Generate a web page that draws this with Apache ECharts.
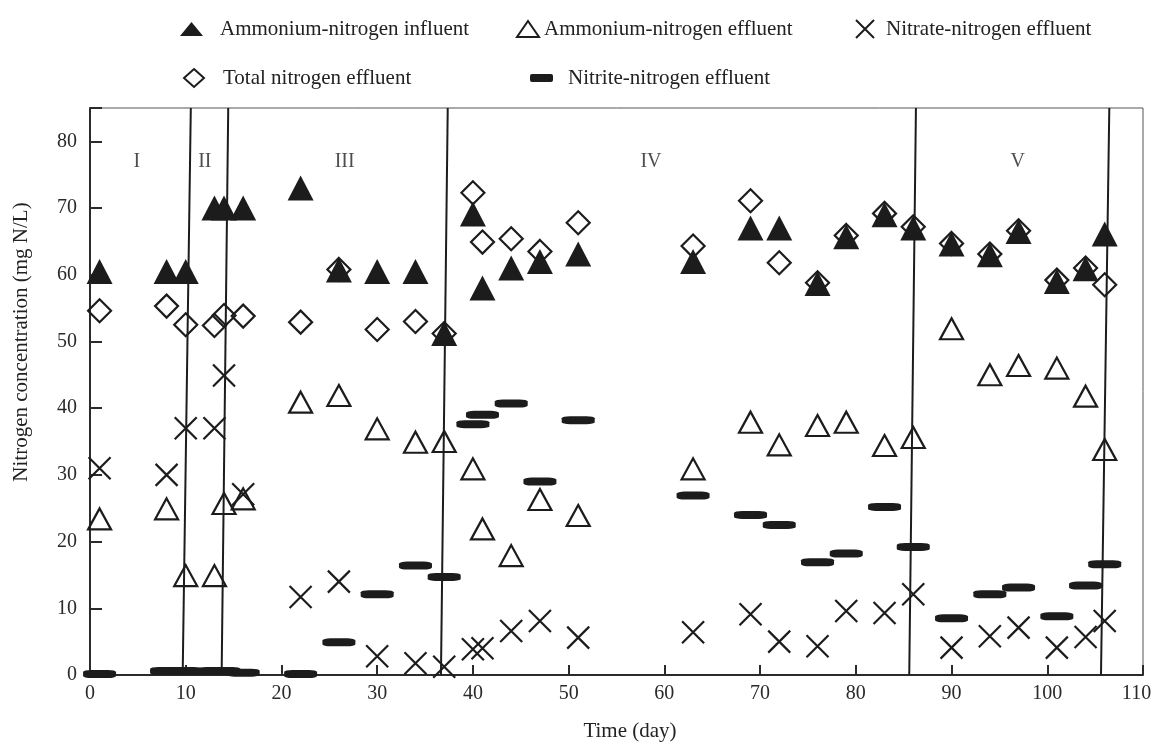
<!DOCTYPE html>
<html>
<head>
<meta charset="utf-8">
<script src="https://cdn.jsdelivr.net/npm/echarts@6/dist/echarts.min.js"></script>
<style>
html,body{margin:0;padding:0;background:#fff;}
#chart{width:1153px;height:744px;}
</style>
</head>
<body>
<div id="chart"></div>
<script>
// ---- Data ----
const days = [1, 8, 10, 13, 14, 16, 22, 26, 30, 34, 37, 40, 41, 44, 47, 51, 63, 69, 72, 76, 79, 83, 86, 90, 94, 97, 101, 104, 106];
const ammoniumInfluent = [60.5, 60.5, 60.5, 70, 70, 70, 73, 60.7, 60.5, 60.5, 51.2, 69.1, 58, 61, 62, 63.1, 62, 67, 67, 58.7, 65.7, 69, 67, 64.6, 63, 66.5, 59, 60.9, 66.1];
const ammoniumEffluent = [23.4, 24.9, 14.9, 14.9, 25.7, 26.4, 40.9, 41.9, 36.9, 34.9, 35.0, 30.9, 21.9, 17.9, 26.3, 23.9, 30.9, 37.9, 34.5, 37.4, 37.9, 34.4, 35.6, 51.9, 45.0, 46.4, 46.0, 41.8, 33.8];
const nitrateEffluent = [31.0, 30.0, 37.0, 37.0, 44.9, 27.1, 11.7, 14.0, 2.8, 1.75, 1.25, 3.85, 4.0, 6.6, 8.1, 5.6, 6.4, 9.1, 5.0, 4.3, 9.6, 9.3, 12.1, 4.1, 5.8, 7.1, 4.1, 5.7, 8.1];
const totalNitrogenEffluent = [54.6, 55.3, 52.5, 52.4, 53.9, 53.8, 52.9, 60.8, 51.8, 53.0, 51.2, 72.3, 64.9, 65.4, 63.5, 67.8, 64.3, 71.1, 61.8, 58.8, 65.9, 69.2, 67.2, 64.7, 63.1, 66.6, 59.2, 61.0, 58.5];
const nitriteEffluent = [0.15, 0.6, 0.6, 0.6, 0.6, 0.35, 0.15, 4.9, 12.1, 16.4, 14.7, 37.6, 39.0, 40.7, 29.0, 38.2, 26.9, 24.0, 22.5, 16.9, 18.2, 25.2, 19.2, 8.5, 12.1, 13.1, 8.8, 13.4, 16.6];

const phaseNames = ['I', 'II', 'III', 'IV', 'V'];
const phaseLabelX = [4.9, 12.0, 26.6, 58.6, 96.9];
const phaseLabelY = [77, 77, 77, 77, 77];
const boundaryTopX = [10.53, 14.44, 37.37, 86.28, 106.48];
const boundaryBottomX = [9.68, 13.75, 36.66, 85.58, 105.61];

const seriesNames = ['Ammonium-nitrogen influent', 'Ammonium-nitrogen effluent', 'Nitrate-nitrogen effluent', 'Total nitrogen effluent', 'Nitrite-nitrogen effluent'];
const xMin = 0, xMax = 110, xInterval = 10;
const yMin = 0, yMax = 85, yInterval = 10, yLabelMax = 80;

// ---- Chart ----
const FONT = '"Liberation Serif", "Times New Roman", serif';
const INK = '#1c1c1c';
const pair = (vals) => days.map((d, i) => [d, vals[i]]);
const crossPath = 'path://M0,0L20,20M20,0L0,20';

function legendAt(name, left, top, w, h, padLeft) {
  return {
    data: [name], left: left, top: top, padding: 0,
    itemWidth: w, itemHeight: h, selectedMode: false,
    textStyle: { fontFamily: FONT, fontSize: 21, color: '#222', padding: [0, 0, 0, padLeft] }
  };
}

const chart = echarts.init(document.getElementById('chart'), null, { renderer: 'canvas' });
chart.setOption({
  animation: false,
  backgroundColor: '#fff',
  textStyle: { fontFamily: FONT },
  legend: [
    legendAt(seriesNames[0], 180, 18.5, 23, 14, 12),
    legendAt(seriesNames[1], 516, 18.5, 22, 16, 0),
    legendAt(seriesNames[2], 855, 18.5, 18, 18, 7),
    legendAt(seriesNames[3], 183, 67.5, 20, 18, 14),
    legendAt(seriesNames[4], 530, 67.5, 23, 8, 10)
  ],
  grid: { left: 90, right: 10, top: 108, bottom: 69, show: true, borderColor: '#555', borderWidth: 1,
    backgroundColor: 'transparent', containLabel: false, outerBoundsMode: 'none' },
  xAxis: {
    type: 'value', min: xMin, max: xMax, interval: xInterval,
    name: 'Time (day)', nameLocation: 'middle', nameGap: 46,
    nameTextStyle: { fontFamily: FONT, fontSize: 21, color: '#222', padding: [0, 0, 0, 27] },
    axisLine: { show: true, onZero: false, lineStyle: { color: '#2b2b2b', width: 2 } },
    axisTick: { show: true, inside: true, length: 10, lineStyle: { color: '#2b2b2b', width: 2 } },
    axisLabel: { fontFamily: FONT, fontSize: 20, color: '#2a2a2a', margin: 9,
      formatter: (v) => (v >= xMax ? '{last|' + v + '}' : String(v)),
      rich: { last: { fontFamily: FONT, fontSize: 20, color: '#2a2a2a', padding: [0, 13, 0, 0] } } },
    splitLine: { show: false }
  },
  yAxis: {
    type: 'value', min: yMin, max: yMax, interval: yInterval,
    name: 'Nitrogen concentration (mg N/L)', nameLocation: 'middle', nameGap: 58,
    nameTextStyle: { fontFamily: FONT, fontSize: 21, color: '#222', padding: [0, 0, 0, 99] },
    axisLine: { show: true, onZero: false, lineStyle: { color: '#2b2b2b', width: 2 } },
    axisTick: { show: true, inside: true, length: 12, lineStyle: { color: '#2b2b2b', width: 2 } },
    axisLabel: { fontFamily: FONT, fontSize: 20, color: '#2a2a2a', margin: 13,
      formatter: (v) => (v > yLabelMax ? '' : String(v)) },
    splitLine: { show: false }
  },
  series: [
    {
      name: seriesNames[3], type: 'scatter', z: 2, data: pair(totalNitrogenEffluent),
      symbol: 'diamond', symbolSize: [23, 23],
      itemStyle: { color: 'rgba(255,255,255,0)', borderColor: INK, borderWidth: 2.2, opacity: 1 },
      emphasis: { disabled: true }
    },
    {
      name: seriesNames[1], type: 'scatter', z: 3, data: pair(ammoniumEffluent),
      symbol: 'triangle', symbolSize: [23, 21],
      itemStyle: { color: 'rgba(255,255,255,0)', borderColor: INK, borderWidth: 2.2, opacity: 1 },
      emphasis: { disabled: true }
    },
    {
      name: seriesNames[2], type: 'scatter', z: 3, data: pair(nitrateEffluent),
      symbol: crossPath, symbolSize: [22, 22],
      itemStyle: { color: 'rgba(255,255,255,0)', borderColor: INK, borderWidth: 2.2, opacity: 1 },
      emphasis: { disabled: true }
    },
    {
      name: seriesNames[4], type: 'scatter', z: 3, data: pair(nitriteEffluent),
      symbol: 'roundRect', symbolSize: [33, 8],
      itemStyle: { color: INK, opacity: 1 },
      emphasis: { disabled: true }
    },
    {
      name: seriesNames[0], type: 'scatter', z: 4, data: pair(ammoniumInfluent),
      symbol: 'triangle', symbolSize: [26, 25],
      itemStyle: { color: INK, opacity: 1 },
      emphasis: { disabled: true }
    },
    {
      name: 'phases', type: 'scatter', z: 5, silent: true,
      data: phaseLabelX.map((x, i) => ({ name: phaseNames[i], value: [x, phaseLabelY[i]] })),
      symbol: 'circle', symbolSize: 1,
      itemStyle: { color: 'rgba(0,0,0,0)' },
      label: { show: true, position: 'inside', formatter: '{b}', fontFamily: FONT, fontSize: 20, color: '#222' },
      markLine: {
        silent: true, symbol: ['none', 'none'], animation: false,
        label: { show: false },
        lineStyle: { color: INK, width: 2, type: 'solid', opacity: 1 },
        emphasis: { disabled: true },
        data: boundaryTopX.map((t, i) => [{ coord: [t, yMax] }, { coord: [boundaryBottomX[i], yMin] }])
      }
    }
  ]
});
</script>
</body>
</html>
